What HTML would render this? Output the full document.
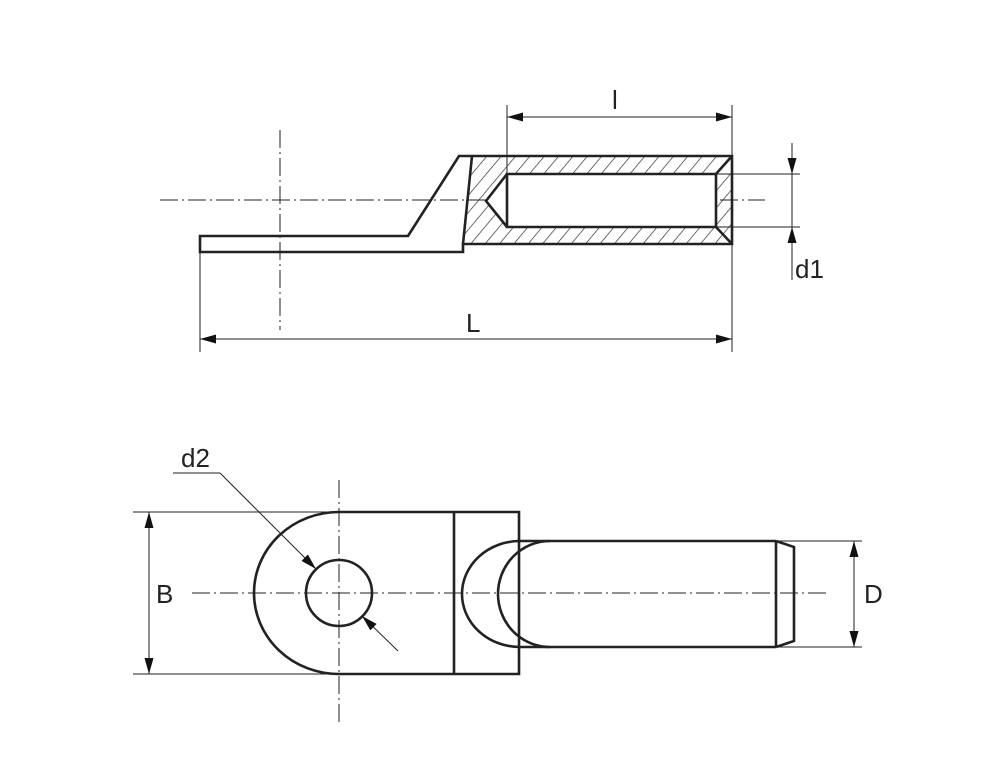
<!DOCTYPE html>
<html><head><meta charset="utf-8"><style>
html,body{margin:0;padding:0;background:#fff;}
svg{display:block;}
text{font-family:"Liberation Sans",sans-serif;fill:#222;}
</style></head><body>
<svg width="1000" height="783" viewBox="0 0 1000 783" xmlns="http://www.w3.org/2000/svg">
<defs>
<pattern id="h" patternUnits="userSpaceOnUse" width="11" height="11" patternTransform="rotate(40)">
<line x1="0" y1="0" x2="0" y2="11" stroke="#222" stroke-width="1.3"/>
</pattern>
<marker id="a" viewBox="0 0 16 9" refX="16" refY="4.5" markerWidth="16" markerHeight="9" markerUnits="userSpaceOnUse" orient="auto-start-reverse">
<path d="M0,0 L16,4.5 L0,9 z" fill="#111"/>
</marker>
</defs>
<g stroke="#222" fill="none">
<line x1="160" y1="200" x2="765" y2="200" stroke-width="1" stroke-dasharray="18,4,2,4"/>
<line x1="280" y1="130" x2="280" y2="330" stroke-width="1" stroke-dasharray="18,4,2,4"/>
<path d="M472,156 L732,156 L732,244 L463,244 Z" fill="url(#h)" stroke="none"/>
<path d="M507,174 L716,174 L716,227 L507,227 L486,201 Z" fill="#fff" stroke="none"/>
<g stroke-width="2.6">
<path d="M200,236 L408,236 L459,156 L732,156 L732,244 L463,244 L463,252 L200,252 Z"/>
<line x1="472" y1="156" x2="463" y2="244"/>
<path d="M732,156 L716,174 L507,174 L507,227 L716,227 L732,244"/>
<line x1="716" y1="174" x2="716" y2="227"/>
<path d="M507,174 L486,201 L507,227"/>
</g>
<g stroke-width="1">
<line x1="507" y1="105" x2="507" y2="174"/>
<line x1="732" y1="105" x2="732" y2="156"/>
<line x1="507" y1="117" x2="732" y2="117" marker-start="url(#a)" marker-end="url(#a)"/>
<line x1="200" y1="252" x2="200" y2="352"/>
<line x1="732" y1="244" x2="732" y2="352"/>
<line x1="200" y1="339" x2="732" y2="339" marker-start="url(#a)" marker-end="url(#a)"/>
<line x1="716" y1="174" x2="800" y2="174"/>
<line x1="716" y1="227" x2="800" y2="227"/>
<line x1="792" y1="143" x2="792" y2="174" marker-end="url(#a)"/>
<line x1="792" y1="280" x2="792" y2="227" marker-end="url(#a)"/>
<line x1="792" y1="174" x2="792" y2="227"/>
</g>
<line x1="192" y1="593" x2="830" y2="593" stroke-width="1" stroke-dasharray="18,4,2,4"/>
<line x1="339" y1="480" x2="339" y2="722" stroke-width="1" stroke-dasharray="18,4,2,4"/>
<g stroke-width="2.6">
<path d="M519,512 L339,512 A85,81 0 0 0 339,674 L519,674 Z"/>
<line x1="454" y1="512" x2="454" y2="674"/>
<circle cx="339" cy="593" r="33"/>
<path d="M520,541 A58,53 0 0 0 520,647"/>
<path d="M550,541 A52,53 0 0 0 550,647"/>
<line x1="519" y1="541" x2="776" y2="541"/>
<line x1="519" y1="647" x2="776" y2="647"/>
<path d="M776,541 L776,647 M776,541 L794,547 L794,641 L776,647"/>
</g>
<g stroke-width="1">
<line x1="133" y1="512" x2="339" y2="512"/>
<line x1="133" y1="674" x2="339" y2="674"/>
<line x1="149" y1="512" x2="149" y2="674" marker-start="url(#a)" marker-end="url(#a)"/>
<line x1="776" y1="541" x2="862" y2="541"/>
<line x1="776" y1="647" x2="862" y2="647"/>
<line x1="854" y1="541" x2="854" y2="647" marker-start="url(#a)" marker-end="url(#a)"/>
<line x1="173" y1="473" x2="220" y2="473"/>
<line x1="220" y1="473" x2="316" y2="569" marker-end="url(#a)"/>
<line x1="398" y1="651" x2="362" y2="616" marker-end="url(#a)"/>
</g>
</g>
<text x="612" y="109" font-size="26">l</text>
<text x="466" y="332" font-size="26">L</text>
<text x="795" y="278" font-size="26">d1</text>
<text x="181" y="467" font-size="26">d2</text>
<text x="156" y="603" font-size="26">B</text>
<text x="864" y="603" font-size="26">D</text>
</svg>
</body></html>
